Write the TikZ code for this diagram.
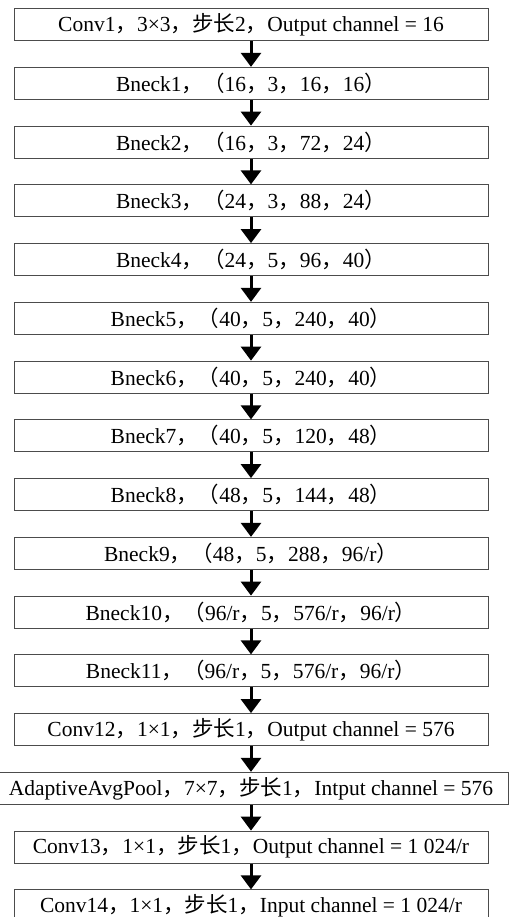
\documentclass[tikz,border=0pt]{standalone}
\usepackage{fontspec}
\setmainfont{Liberation Serif}
\newfontfamily\cjk{Noto Sans CJK SC}
\usetikzlibrary{arrows.meta}
\newcommand{\zhcomma}{{\cjk ，}}
\newcommand{\zhlpar}{{\cjk （}}
\newcommand{\zhrpar}{{\cjk ）}}
\newcommand{\zhstep}{{\cjk 步长}}
\begin{document}
\begin{tikzpicture}[x=1pt,y=-1pt]
\useasboundingbox (0,0) rectangle (512,917);
\begin{scope}[every node/.style={draw=black!70,line width=1pt,minimum width=474pt,minimum height=32pt,inner sep=0pt,font=\fontsize{21.5}{24}\selectfont}]
    \node (C1) at (251,24.6) {Conv1\zhcomma 3×3\zhcomma \zhstep 2\zhcomma Output channel = 16};
    \node (B1) at (251,83.35) {Bneck1\zhcomma \zhlpar 16\zhcomma 3\zhcomma 16\zhcomma 16\zhrpar};
    \node (B2) at (251,142.1) {Bneck2\zhcomma \zhlpar 16\zhcomma 3\zhcomma 72\zhcomma 24\zhrpar};
    \node (B3) at (251,200.85) {Bneck3\zhcomma \zhlpar 24\zhcomma 3\zhcomma 88\zhcomma 24\zhrpar};
    \node (B4) at (251,259.6) {Bneck4\zhcomma \zhlpar 24\zhcomma 5\zhcomma 96\zhcomma 40\zhrpar};
    \node (B5) at (251,318.35) {Bneck5\zhcomma \zhlpar 40\zhcomma 5\zhcomma 240\zhcomma 40\zhrpar};
    \node (B6) at (251,377.1) {Bneck6\zhcomma \zhlpar 40\zhcomma 5\zhcomma 240\zhcomma 40\zhrpar};
    \node (B7) at (251,435.85) {Bneck7\zhcomma \zhlpar 40\zhcomma 5\zhcomma 120\zhcomma 48\zhrpar};
    \node (B8) at (251,494.6) {Bneck8\zhcomma \zhlpar 48\zhcomma 5\zhcomma 144\zhcomma 48\zhrpar};
    \node (B9) at (251,553.35) {Bneck9\zhcomma \zhlpar 48\zhcomma 5\zhcomma 288\zhcomma 96/r\zhrpar};
    \node (B10) at (251,612.1) {Bneck10\zhcomma \zhlpar 96/r\zhcomma 5\zhcomma 576/r\zhcomma 96/r\zhrpar};
    \node (B11) at (251,670.85) {Bneck11\zhcomma \zhlpar 96/r\zhcomma 5\zhcomma 576/r\zhcomma 96/r\zhrpar};
    \node (C12) at (251,729.6) {Conv12\zhcomma 1×1\zhcomma \zhstep 1\zhcomma Output channel = 576};
    \node[minimum width=514pt] (P) at (251,788.35) {AdaptiveAvgPool\zhcomma 7×7\zhcomma \zhstep 1\zhcomma Intput channel = 576};
    \node (C13) at (251,847.1) {Conv13\zhcomma 1×1\zhcomma \zhstep 1\zhcomma Output channel = 1 024/r};
    \node (C14) at (251,905.85) {Conv14\zhcomma 1×1\zhcomma \zhstep 1\zhcomma Input channel = 1 024/r};
\end{scope}
\begin{scope}[line width=3pt,-{Triangle[width=20pt,length=14pt]}]
    \draw (C1) -- (B1);
    \draw (B1) -- (B2);
    \draw (B2) -- (B3);
    \draw (B3) -- (B4);
    \draw (B4) -- (B5);
    \draw (B5) -- (B6);
    \draw (B6) -- (B7);
    \draw (B7) -- (B8);
    \draw (B8) -- (B9);
    \draw (B9) -- (B10);
    \draw (B10) -- (B11);
    \draw (B11) -- (C12);
    \draw (C12) -- (P);
    \draw (P) -- (C13);
    \draw (C13) -- (C14);
\end{scope}
\end{tikzpicture}
\end{document}
